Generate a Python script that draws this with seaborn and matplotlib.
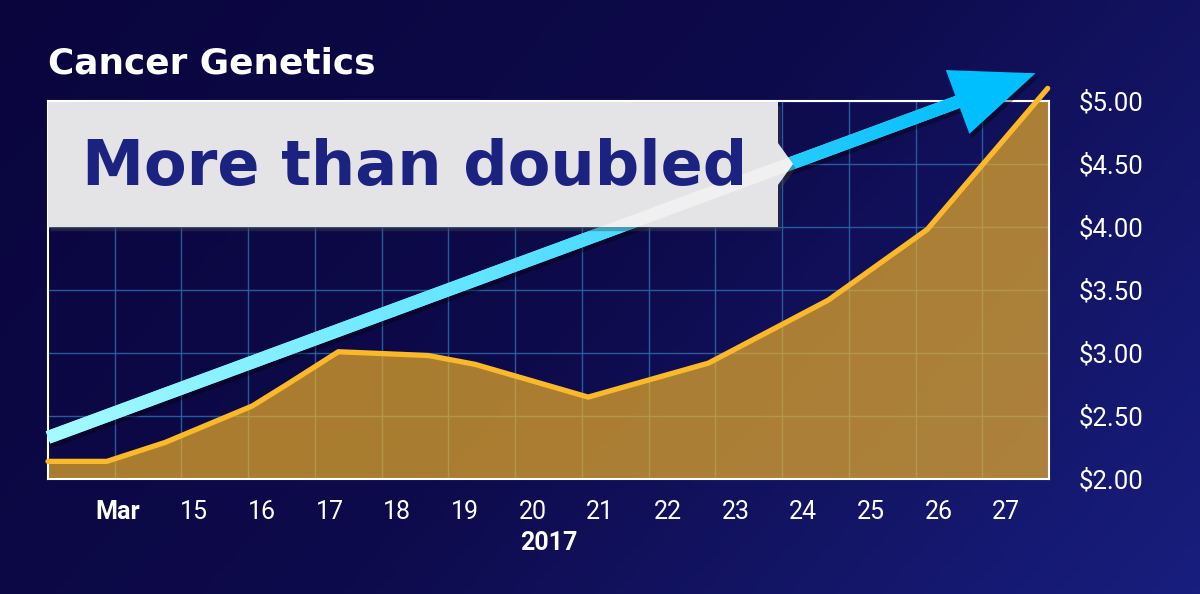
import numpy as np
import matplotlib.pyplot as plt
import matplotlib.patheffects as pe
import matplotlib.transforms as mtransforms
from matplotlib.patches import Polygon
from matplotlib.colors import LinearSegmentedColormap
import seaborn as sns

# ------------------------------
# Data
# ------------------------------
title = "Cancer Genetics"
callout = "More than doubled"
year_label = "2017"

days = [12.84, 13.71, 14.57, 15.86, 16.37, 17.13, 18.46, 19.15, 20.82, 22.60, 24.37, 25.83, 27.61]
prices = [2.14, 2.14, 2.29, 2.58, 2.75, 3.01, 2.98, 2.91, 2.65, 2.92, 3.42, 3.98, 5.10]

tick_days = list(range(14, 28))
tick_labels = ["Mar"] + [str(d) for d in range(15, 28)]
price_ticks = [2.0, 2.5, 3.0, 3.5, 4.0, 4.5, 5.0]

# trend arrow: price at left edge -> price at tip
trend_days = [12.84, 27.43]
trend_prices = [2.33, 5.22]

# ------------------------------
# Style
# ------------------------------
sns.set_theme(style="dark")
plt.rcParams['font.family'] = ['Roboto', 'DejaVu Sans']

fig = plt.figure(figsize=(12, 5.94), dpi=100)

# background gradient
bg = fig.add_axes([0, 0, 1, 1], zorder=-10)
gx, gy = np.meshgrid(np.linspace(0, 1, 300), np.linspace(0, 1, 150))
grad = 0.7 * gx + 0.3 * gy
bg_cmap = LinearSegmentedColormap.from_list("bg", ["#0a053d", "#0e0b4c", "#181e7e"])
bg.imshow(grad, cmap=bg_cmap, aspect="auto", extent=[0, 1, 0, 1], origin="upper")
bg.axis("off")

# ------------------------------
# Main chart
# ------------------------------
ax = fig.add_axes([0.04, 0.1936, 0.8342, 0.6364])
ax.set_facecolor("none")
xmin, xmax = 12.84, 27.63
ax.set_xlim(xmin, xmax)
ax.set_ylim(2.0, 5.0)

ax.fill_between(days, prices, 2.0, color="#f5b425", alpha=0.68, lw=0, zorder=1)
sns.lineplot(x=days, y=prices, ax=ax, color="#fbb829", lw=3.8, zorder=3)
ax.lines[-1].set_clip_on(False)
ax.lines[-1].set_solid_capstyle("round")

# grid
ax.set_axisbelow(True)
ax.set_xticks(np.linspace(xmin, xmax, 16)[1:-1], minor=True)
ax.grid(False)
ax.grid(which="minor", axis="x", color="#2b64a4", lw=1.0, alpha=0.9)
ax.grid(which="major", axis="y", color="#2b64a4", lw=1.0, alpha=0.9)

for s in ax.spines.values():
    s.set_visible(True)
    s.set_color("white")
    s.set_linewidth(1.5)

ax.yaxis.tick_right()
ax.set_yticks(price_ticks, [f"${v:.2f}" for v in price_ticks])
ax.set_xticks(tick_days, tick_labels)
ax.tick_params(axis="y", length=0, pad=21, labelsize=18.5, colors="white")
ax.tick_params(axis="x", which="both", length=0, pad=15, labelsize=18, colors="white")
mar = ax.get_xticklabels()[0]
mar.set_fontweight("bold")
mar.set_transform(mar.get_transform() + mtransforms.ScaledTranslation(-0.09, 0, fig.dpi_scale_trans))
ax.set_xlabel(year_label, color="white", fontsize=18, fontweight="bold", labelpad=5)
ax.set_ylabel("")

# ------------------------------
# Overlay: arrow + callout box (pixel coords)
# ------------------------------
ov = fig.add_axes([0, 0, 1, 1], zorder=5)
ov.set_xlim(0, 1200)
ov.set_ylim(0, 594)
ov.axis("off")
ov.patch.set_alpha(0)

p0 = ax.transData.transform((trend_days[0], trend_prices[0]))
p1 = ax.transData.transform((trend_days[1], trend_prices[1]))
length = np.linalg.norm(p1 - p0)
u = (p1 - p0) / length
n = np.array([-u[1], u[0]])
head_len, head_half, shaft_half = 83, 34, 6.5
base = p1 - u * head_len
shaft_end = base + u * 3
shaft_pts = [p0 + n * shaft_half, shaft_end + n * shaft_half,
             shaft_end - n * shaft_half, p0 - n * shaft_half]

shadow = [pe.SimplePatchShadow(offset=(2, -3), shadow_rgbFace="black", alpha=0.35), pe.Normal()]
shaft = Polygon(shaft_pts, closed=True, fc="#5ee3ff", ec="none", path_effects=shadow, zorder=2)
ov.add_patch(shaft)

# gradient fill of the shaft
x0, x1 = p0[0] - 10, shaft_end[0] + 10
y0, y1 = p0[1] - 20, shaft_end[1] + 20
mx, my = np.meshgrid(np.linspace(x0, x1, 400), np.linspace(y0, y1, 200))
tt = ((mx - p0[0]) * u[0] + (my - p0[1]) * u[1]) / length
arrow_cmap = LinearSegmentedColormap.from_list("arr", ["#a4fbff", "#5ee3ff", "#06bffc"])
im = ov.imshow(tt, cmap=arrow_cmap, vmin=0, vmax=0.92, extent=[x0, x1, y0, y1],
               origin="lower", aspect="auto", zorder=3, interpolation="bilinear")
im.set_clip_path(shaft)
ov.set_xlim(0, 1200)
ov.set_ylim(0, 594)

head = Polygon([p1, base + n * head_half, base - n * head_half], closed=True,
               fc="#00bfff", ec="none", path_effects=shadow, zorder=4)
ov.add_patch(head)

# callout box
bx0, bx1 = 48, 778
by_top, by_bot = 594 - 102, 594 - 227
box = Polygon([(bx0, by_top), (bx1, by_top), (bx1, 594 - 143), (793, 594 - 164),
               (bx1, 594 - 185), (bx1, by_bot), (bx0, by_bot)], closed=True,
              fc="#e4e4e6", ec="none", zorder=6,
              path_effects=[pe.SimplePatchShadow(offset=(2, -3), alpha=0.4), pe.Normal()])
ov.add_patch(box)
# faint trace of the arrow through the box
trace = Polygon(shaft_pts, closed=True, fc="white", ec="none", alpha=0.45, zorder=7)
ov.add_patch(trace)
trace.set_clip_path(box)

ov.text(82, 594 - 185, callout, fontsize=44.8, fontweight="bold", color="#1c2280",
        va="baseline", ha="left", family="DejaVu Sans", zorder=8)

fig.text(48 / 1200, 1 - 74 / 594, title, fontsize=25.8, fontweight="bold", color="white",
         va="baseline", ha="left", family="DejaVu Sans")

fig.savefig("out.png", dpi=100)
